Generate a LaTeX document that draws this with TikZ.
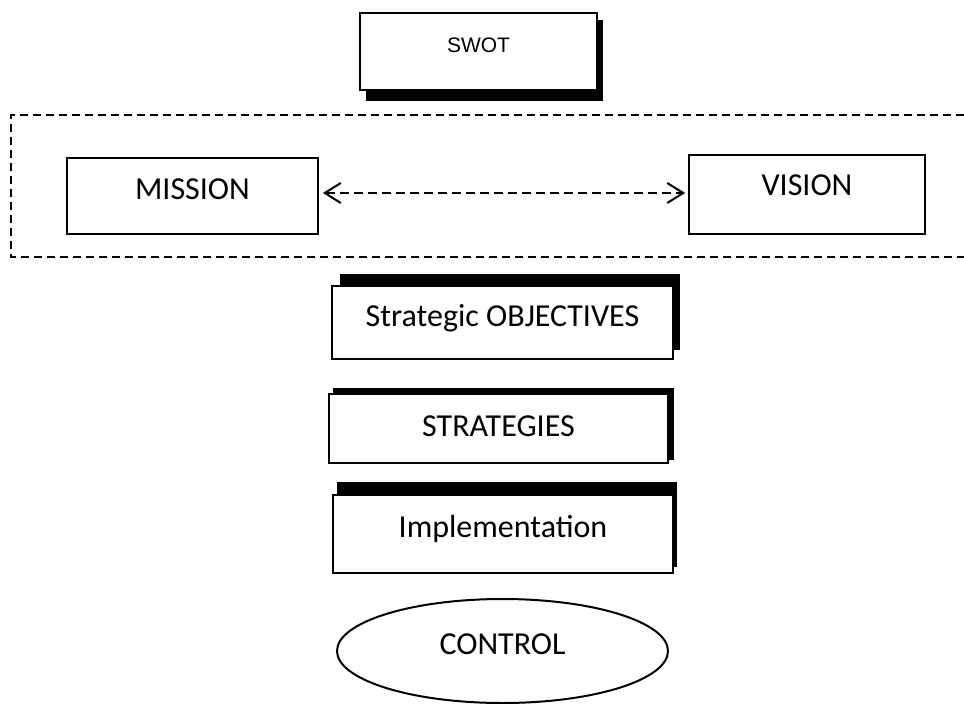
\documentclass[tikz,border=0pt]{standalone}
\usepackage{fontspec}
\setmainfont{Carlito}
\newfontfamily\arialfont{Liberation Sans}
\usetikzlibrary{arrows.meta,shapes.geometric}
\begin{document}
\begin{tikzpicture}[x=1pt,y=-1pt,
  box/.style={draw,line width=2pt,fill=white,inner sep=0pt,
    text height=19pt,font=\fontsize{32}{37}\selectfont},
  shadowfill/.style={fill=black},
  frame/.style={line width=1.5pt,dash pattern=on 8pt off 5pt},
  arr/.style={line width=2.2pt,dash pattern=on 9pt off 5pt,
    {Straight Barb[length=16pt,width=20pt,line width=2pt]}-{Straight Barb[length=16pt,width=20pt,line width=2pt]}}]
\useasboundingbox (0,0) rectangle (964,704);
\fill[white] (0,0) rectangle (964,704);

% SWOT
\fill[shadowfill] (366,20) rectangle (603,101);
\node[box,minimum width=237pt,minimum height=77pt,text height=14.8pt,text depth=13pt,
  font=\arialfont\fontsize{21}{24}\selectfont] (swot) at (478.5,51.5) {SWOT};

% dashed frame
\draw[frame] (964,115) -- (11,115) -- (11,257) -- (964,257);

% Mission / Vision
\node[box,line width=1.8pt,minimum width=251pt,minimum height=76pt,text depth=12pt] (mission) at (192.5,196) {MISSION};
\node[box,line width=1.8pt,minimum width=236pt,minimum height=79pt,text depth=17pt] (vision) at (807,194.5) {VISION};
\draw[arr] ([xshift=4pt,yshift=1.5pt]mission.east |- vision.west) -- ([xshift=-3pt,yshift=1.5pt]vision.west);

% Strategic objectives
\fill[shadowfill] (340,274) rectangle (680,350);
\node[box,minimum width=341pt,minimum height=73pt,text depth=11pt] (obj) at (502.5,322.5) {Strategic OBJECTIVES};

% Strategies
\fill[shadowfill] (333,388) rectangle (674,460);
\node[box,line width=2.5pt,minimum width=339pt,minimum height=69pt,text depth=3pt] (strat) at (498.5,428.5) {STRATEGIES};

% Implementation
\fill[shadowfill] (337,482) rectangle (677,567);
\node[box,minimum width=340pt,minimum height=78pt,text depth=12pt] (impl) at (503,534) {Implementation};

% Control
\node[draw,ellipse,line width=2pt,inner sep=0pt,minimum width=331pt,minimum height=104pt,
  text height=19pt,text depth=12pt,font=\fontsize{32}{37}\selectfont] (control) at (502.5,651) {CONTROL};
\end{tikzpicture}
\end{document}
